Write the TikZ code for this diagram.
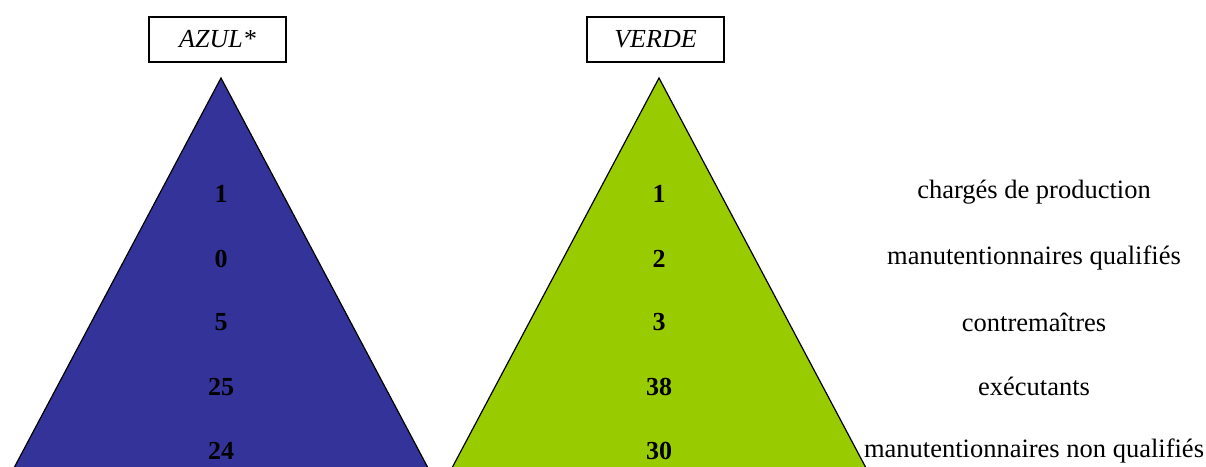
\documentclass[tikz,border=0pt]{standalone}
\usepackage{fontspec}
\setmainfont{Liberation Serif}
\usetikzlibrary{positioning}
\definecolor{azulfill}{RGB}{51,51,153}
\definecolor{verdefill}{RGB}{153,204,0}
\tikzset{
  titlebox/.style={draw, line width=1.2pt, minimum width=137pt, minimum height=45pt, inner sep=0pt, font=\fontsize{26}{30}\selectfont\itshape},
  count/.style={font=\fontsize{26}{30}\selectfont\bfseries},
  rowlabel/.style={font=\fontsize{26.5}{31}\selectfont}
}
\begin{document}
\begin{tikzpicture}[x=1pt,y=1pt,yscale=-1,xscale=1]
\useasboundingbox (0,0) rectangle (1206,466);
\clip (0,0) rectangle (1206,466);

%Shape: Triangle [blue]
\draw [fill=azulfill, line width=1.2pt] (221,78) -- (434.4,480) -- (7.6,480) -- cycle ;
%Shape: Triangle [green]
\draw [fill=verdefill, line width=1.2pt] (659,78) -- (872.4,480) -- (445.6,480) -- cycle ;

% Title boxes
\node [titlebox] (azul) at (217.5,39.5) {AZUL*};
\node [titlebox] (verde) at (655.5,39.5) {VERDE};

% Text Node
\node [count] (a1) at (221,194) {1};
\node [count] (a2) at (221,259) {0};
\node [count] (a3) at (221,322) {5};
\node [count] (a4) at (221,387) {25};
\node [count] (a5) at (221,451) {24};

% Text Node
\node [count] (v1) at (659,194) {1};
\node [count] (v2) at (659,259) {2};
\node [count] (v3) at (659,322) {3};
\node [count] (v4) at (659,387) {38};
\node [count] (v5) at (659,451) {30};

% Text Node
\node [rowlabel] (r1) at (1034,192) {chargés de production};
\node [rowlabel] (r2) at (1034,258) {manutentionnaires qualifiés};
\node [rowlabel] (r3) at (1034,322) {contremaîtres};
\node [rowlabel] (r4) at (1034,386) {exécutants};
\node [rowlabel] (r5) at (1034,451) {manutentionnaires non qualifiés};

\end{tikzpicture}
\end{document}
